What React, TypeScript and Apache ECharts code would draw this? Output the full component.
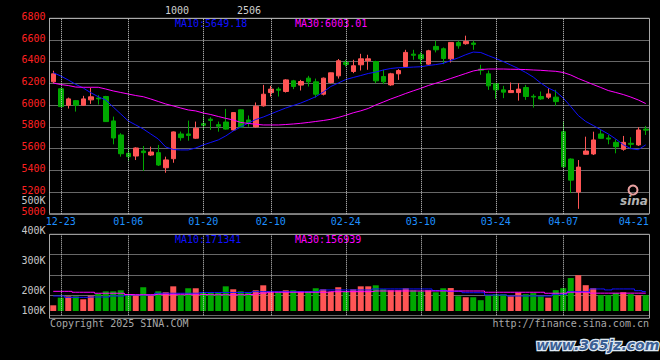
import React, { useEffect, useRef } from 'react';
import * as echarts from 'echarts';

const dates = [
  '12-20', '12-23', '12-24', '12-25', '12-26', '12-27', '12-30', '12-31', '01-02', '01-03',
  '01-06', '01-07', '01-08', '01-09', '01-10', '01-13', '01-14', '01-15', '01-16', '01-17',
  '01-20', '01-21', '01-22', '01-23', '01-24', '01-27', '02-05', '02-06', '02-07', '02-10',
  '02-11', '02-12', '02-13', '02-14', '02-17', '02-18', '02-19', '02-20', '02-21', '02-24',
  '02-25', '02-26', '02-27', '02-28', '03-03', '03-04', '03-05', '03-06', '03-07', '03-10',
  '03-11', '03-12', '03-13', '03-14', '03-17', '03-18', '03-19', '03-20', '03-21', '03-24',
  '03-25', '03-26', '03-27', '03-28', '03-31', '04-01', '04-02', '04-03', '04-07', '04-08',
  '04-09', '04-10', '04-11', '04-14', '04-15', '04-16', '04-17', '04-18', '04-21', '04-22',
];

const labelDates = ['12-23', '01-06', '01-20', '02-10', '02-24', '03-10', '03-24', '04-07', '04-21'];
const gridDates = ['12-23', '01-06', '01-20', '02-10', '02-24', '03-10', '03-24', '04-07'];

const open = [
  6215, 6151, 6000, 6042, 6000, 6049, 6066, 6080, 5855, 5726,
  5557, 5532, 5578, 5541, 5563, 5424, 5507, 5735, 5735, 5696,
  5830, 5871, 5821, 5845, 5772, 5957, 5864, 5800, 5994, 6116,
  6148, 6126, 6224, 6185, 6249, 6215, 6101, 6209, 6270, 6393,
  6310, 6372, 6409, 6402, 6264, 6187, 6289, 6356, 6470, 6464,
  6378, 6541, 6520, 6427, 6578, 6566, 6572, 6332, 6289, 6197,
  6141, 6116, 6116, 6163, 6082, 6080, 6074, 6074, 5756, 5504,
  5200, 5548, 5551, 5735, 5698, 5658, 5594, 5649, 5634, 5780,
];
const close = [
  6289, 5987, 6058, 6000, 6058, 6077, 6058, 5849, 5698, 5553,
  5526, 5606, 5563, 5569, 5449, 5496, 5754, 5701, 5722, 5788,
  5815, 5860, 5806, 5780, 5932, 5797, 5840, 5990, 6101, 6148,
  6138, 6233, 6172, 6218, 6215, 6101, 6249, 6298, 6409, 6375,
  6363, 6427, 6427, 6224, 6215, 6289, 6319, 6486, 6460, 6427,
  6501, 6510, 6430, 6578, 6547, 6587, 6560, 6322, 6178, 6141,
  6120, 6135, 6148, 6080, 6075, 6058, 6104, 6033, 5433, 5310,
  5430, 5578, 5680, 5695, 5688, 5618, 5658, 5640, 5772, 5770,
];
const low = [
  6205, 5985, 5969, 5941, 5995, 6012, 6006, 5845, 5640, 5526,
  5489, 5495, 5394, 5532, 5440, 5378, 5470, 5673, 5673, 5689,
  5772, 5772, 5756, 5775, 5765, 5790, 5802, 5795, 5987, 6080,
  6080, 6116, 6148, 6135, 6172, 6070, 6090, 6200, 6245, 6356,
  6295, 6319, 6326, 6203, 6194, 6178, 6233, 6350, 6418, 6378,
  6372, 6486, 6378, 6393, 6520, 6557, 6510, 6280, 6141, 6058,
  6065, 6112, 6042, 6049, 5978, 6049, 6058, 5994, 5430, 5193,
  5046, 5545, 5541, 5690, 5640, 5557, 5581, 5594, 5625, 5726,
];
const high = [
  6317, 6155, 6070, 6048, 6086, 6160, 6092, 6086, 5895, 5742,
  5612, 5612, 5624, 5618, 5634, 5526, 5758, 5757, 5858, 5849,
  5895, 5889, 5849, 5966, 5935, 5960, 5905, 6025, 6187, 6178,
  6166, 6240, 6233, 6233, 6270, 6245, 6255, 6300, 6425, 6418,
  6418, 6473, 6464, 6409, 6326, 6298, 6332, 6510, 6510, 6486,
  6510, 6593, 6532, 6580, 6593, 6640, 6593, 6372, 6319, 6203,
  6178, 6209, 6203, 6187, 6101, 6126, 6157, 6141, 5849, 5510,
  5495, 5710, 5756, 5772, 5726, 5686, 5717, 5705, 5797, 5809,
];

const ma10 = [
  6299, 6269, 6232, 6192, 6158, 6115, 6078, 6048, 5983, 5919,
  5855, 5818, 5781, 5735, 5689, 5615, 5592, 5588, 5588, 5606,
  5634, 5657, 5680, 5717, 5763, 5799, 5836, 5868, 5891, 5919,
  5947, 5974, 5997, 6020, 6048, 6078, 6121, 6172, 6204, 6236,
  6255, 6273, 6292, 6305, 6324, 6338, 6345, 6347, 6351, 6354,
  6365, 6374, 6385, 6411, 6436, 6465, 6489, 6485, 6457, 6430,
  6402, 6370, 6338, 6301, 6259, 6204, 6158, 6126, 6066, 5988,
  5905, 5850, 5813, 5774, 5735, 5689, 5636, 5600, 5590, 5635,
];
const ma30 = [
  6204, 6190, 6181, 6167, 6165, 6165, 6165, 6149, 6131, 6117,
  6103, 6089, 6078, 6057, 6034, 6011, 5993, 5974, 5956, 5947,
  5928, 5914, 5896, 5879, 5864, 5841, 5832, 5825, 5818, 5818,
  5818, 5822, 5827, 5833, 5841, 5850, 5859, 5870, 5887, 5907,
  5930, 5948, 5970, 6002, 6029, 6057, 6082, 6108, 6132, 6155,
  6181, 6202, 6223, 6246, 6269, 6292, 6315, 6328, 6333, 6333,
  6333, 6331, 6330, 6328, 6324, 6321, 6316, 6312, 6301, 6278,
  6246, 6218, 6190, 6163, 6135, 6117, 6098, 6075, 6048, 6015,
];

const volume = [
  50000, 117000, 129000, 129000, 103000, 135000, 152000, 173000, 173000, 182000,
  138000, 138000, 209000, 138000, 173000, 165000, 217000, 138000, 200000, 200000,
  165000, 165000, 165000, 217000, 191000, 173000, 165000, 182000, 226000, 165000,
  165000, 182000, 182000, 173000, 173000, 200000, 191000, 167000, 209000, 167000,
  191000, 217000, 217000, 226000, 191000, 182000, 182000, 200000, 182000, 173000,
  182000, 165000, 200000, 202000, 130000, 121000, 121000, 95000, 135000, 148000,
  148000, 130000, 163000, 148000, 157000, 130000, 117000, 183000, 201000, 290000,
  315000, 227000, 201000, 139000, 139000, 158000, 165000, 148000, 139000, 139000,
];
const volMa10 = [
  132000, 132000, 120000, 120000, 120000, 123000, 123000, 123000, 132000, 132000,
  141000, 141000, 141000, 141000, 156000, 156000, 156000, 156000, 156000, 156000,
  163000, 163000, 163000, 163000, 163000, 163000, 163000, 170000, 170000, 170000,
  170000, 170000, 170000, 170000, 170000, 170000, 185000, 185000, 185000, 185000,
  185000, 185000, 185000, 194000, 194000, 194000, 194000, 194000, 194000, 194000,
  194000, 180000, 180000, 173000, 173000, 161000, 161000, 161000, 141000, 141000,
  141000, 132000, 132000, 132000, 132000, 132000, 132000, 147000, 147000, 170000,
  170000, 170000, 194000, 194000, 185000, 194000, 194000, 194000, 179000, 171000,
];
const volMa30 = [
  173000, 173000, 173000, 165000, 165000, 165000, 156000, 156000, 156000, 156000,
  145000, 143000, 143000, 143000, 147000, 147000, 147000, 147000, 147000, 147000,
  145000, 143000, 143000, 143000, 143000, 143000, 145000, 150000, 158000, 165000,
  165000, 165000, 165000, 165000, 165000, 165000, 165000, 170000, 170000, 170000,
  170000, 170000, 170000, 176000, 176000, 176000, 176000, 176000, 176000, 176000,
  176000, 176000, 176000, 176000, 176000, 176000, 176000, 176000, 165000, 165000,
  165000, 165000, 165000, 165000, 165000, 165000, 156000, 156000, 156000, 165000,
  165000, 165000, 157000, 157000, 157000, 157000, 157000, 157000, 157000, 157000,
];

const legendMa10 = '5649.18';
const legendMa30 = '6003.01';
const legendVolMa10 = '171341';
const legendVolMa30 = '156939';

const UP = '#ff5555';
const DOWN = '#00a800';
const MONO = '"DejaVu Sans Mono", "Liberation Mono", monospace';
const GRIDC = '#cfcfcf';
const FRAME = '#a8a8a8';
const L = 49.5;
const W = 600;

export default function App() {
  const ref = useRef<HTMLDivElement>(null);

  useEffect(() => {
    if (!ref.current) return;
    const chart = echarts.init(ref.current, null, { renderer: 'svg' });

    const markGrid = {
      symbol: ['none', 'none'],
      silent: true,
      animation: false,
      label: { show: false },
      lineStyle: { color: GRIDC, type: 'dotted', width: 1 },
      emphasis: { disabled: true },
      data: gridDates.map((d) => ({ xAxis: d })),
    };

    const txt = (text: string, x: number, y: number, fill: string, extra: any = {}) => ({
      type: 'text',
      x,
      y,
      silent: true,
      style: {
        text,
        fill,
        font: `10px ${MONO}`,
        textAlign: 'left',
        textVerticalAlign: 'middle',
        ...extra,
      },
    });

    const option: any = {
      animation: false,
      backgroundColor: '#000',
      grid: [
        {
          left: L, top: 18.3, width: W, height: 195.5,
          show: true, borderColor: FRAME, borderWidth: 1, backgroundColor: 'transparent',
          containLabel: false, outerBoundsMode: 'none',
        },
        { left: L, top: 234.3, width: W, height: 81, show: false, containLabel: false, outerBoundsMode: 'none' },
        { left: L, top: 200.7, width: W, height: 120, show: false, containLabel: false, outerBoundsMode: 'none' },
      ],
      xAxis: [
        {
          type: 'category', gridIndex: 0, data: dates, boundaryGap: true,
          axisLine: { show: false }, axisTick: { show: false }, splitLine: { show: false },
          axisLabel: {
            interval: (i: number, v: string) => labelDates.includes(v),
            margin: 3,
            formatter: (v: string) => (v === '04-21' ? `{e|${v}}` : `{n|${v}}`),
            rich: {
              n: { color: '#1e90ff', fontFamily: MONO, fontSize: 10 },
              e: { color: '#1e90ff', fontFamily: MONO, fontSize: 10, padding: [0, 9, 0, 0] },
            },
          },
        },
        {
          type: 'category', gridIndex: 1, data: dates, boundaryGap: true,
          axisLine: { show: false }, axisTick: { show: false }, axisLabel: { show: false }, splitLine: { show: false },
        },
        { type: 'value', gridIndex: 2, min: 0, max: 1, show: false },
      ],
      yAxis: [
        {
          type: 'value', gridIndex: 0, min: 5000, max: 6800, interval: 200,
          axisLine: { show: false }, axisTick: { show: false },
          splitLine: { show: true, lineStyle: { color: GRIDC, type: 'dotted', width: 1 } },
          axisLabel: {
            margin: 4,
            formatter: (v: number) => `{p|${v}}`,
            rich: {
              p: { color: '#ff2020', fontFamily: MONO, fontSize: 10, lineHeight: 10, padding: [0, 0, 4, 0] },
            },
          },
        },
        {
          type: 'value', gridIndex: 1, min: -38000, max: 675000, show: false,
          splitLine: { show: false },
        },
        {
          type: 'value', gridIndex: 1, min: 0, max: 4, interval: 1, position: 'left',
          axisLine: { show: false }, axisTick: { show: false }, axisLabel: { show: false },
          splitLine: { show: true, lineStyle: { color: GRIDC, type: 'dotted', width: 1 } },
        },
        {
          type: 'value', gridIndex: 2, min: 100000, max: 500000, interval: 100000,
          axisLine: { show: false }, axisTick: { show: false }, splitLine: { show: false },
          axisLabel: {
            margin: 4,
            formatter: (v: number) => (v === 100000 ? `{u|${v / 1000}K}` : `{n|${v / 1000}K}`),
            rich: {
              n: { color: '#c8c8c8', fontFamily: MONO, fontSize: 10, lineHeight: 10 },
              u: { color: '#c8c8c8', fontFamily: MONO, fontSize: 10, lineHeight: 10, padding: [0, 0, 20, 0] },
            },
          },
        },
      ],
      series: [
        {
          type: 'candlestick', xAxisIndex: 0, yAxisIndex: 0, barWidth: 5,
          data: dates.map((_, i) => [open[i], close[i], low[i], high[i]]),
          itemStyle: { color: UP, color0: DOWN, borderColor: UP, borderColor0: DOWN, borderWidth: 1 },
          markLine: markGrid,
          z: 3,
        },
        {
          type: 'line', xAxisIndex: 0, yAxisIndex: 0, data: ma10, showSymbol: false, symbol: 'none',
          lineStyle: { color: '#1010ff', width: 1 }, z: 4,
        },
        {
          type: 'line', xAxisIndex: 0, yAxisIndex: 0, data: ma30, showSymbol: false, symbol: 'none',
          lineStyle: { color: '#ff00ff', width: 1 }, z: 4,
        },
        {
          type: 'bar', xAxisIndex: 1, yAxisIndex: 1, barWidth: 6,
          data: volume.map((v, i) => ({ value: v, itemStyle: { color: close[i] >= open[i] ? UP : DOWN } })),
          markLine: markGrid,
          z: 3,
        },
        {
          type: 'line', xAxisIndex: 1, yAxisIndex: 1, data: volMa10, step: 'middle', showSymbol: false, symbol: 'none',
          lineStyle: { color: '#1010ff', width: 1 }, z: 4,
        },
        {
          type: 'line', xAxisIndex: 1, yAxisIndex: 1, data: volMa30, step: 'middle', showSymbol: false, symbol: 'none',
          lineStyle: { color: '#ff00ff', width: 1 }, z: 4,
        },
      ],
      graphic: [
        {
          type: 'rect', silent: true, z: 10,
          shape: { x: L, y: 234.3, width: W, height: 84 },
          style: { fill: 'none', stroke: FRAME, lineWidth: 1 },
        },
        txt('1000', 165, 10, '#cfcfcf'),
        txt('2506', 237, 10, '#cfcfcf'),
        txt(`MA10:${legendMa10}`, 175, 23.5, '#1010ff'),
        txt(`MA30:${legendMa30}`, 295, 23.5, '#ff00ff'),
        txt(`MA10:${legendVolMa10}`, 175, 239.5, '#1010ff'),
        txt(`MA30:${legendVolMa30}`, 295, 239.5, '#ff00ff'),
        txt('Copyright 2025 SINA.COM', 50, 323.5, '#a8a8a8'),
        txt('http://finance.sina.com.cn', 649, 323.5, '#a8a8a8', { textAlign: 'right' }),
        {
          type: 'circle', silent: true, z: 5,
          shape: { cx: 633, cy: 190, r: 4.5 },
          style: { fill: 'none', stroke: '#e8a0a0', lineWidth: 2 },
        },
        txt('sina', 620, 201, '#b4b4b4', { font: 'italic bold 12px "DejaVu Sans", sans-serif' }),
        txt('www.365jz.com', 536, 345, '#3a5f95', {
          font: 'italic bold 14px "DejaVu Sans", sans-serif',
          stroke: '#dfe8f2',
          lineWidth: 2.5,
        }),
      ],
    };

    chart.setOption(option);
    return () => chart.dispose();
  }, []);

  return (
    <div
      ref={ref}
      style={{ position: 'fixed', left: 0, top: 0, width: 660, height: 360, background: '#000' }}
    />
  );
}
